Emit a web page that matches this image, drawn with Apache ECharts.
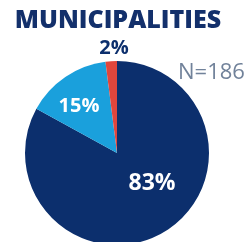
<!DOCTYPE html>
<html>
<head>
<meta charset="utf-8">
<script src="https://cdn.jsdelivr.net/npm/echarts@6/dist/echarts.min.js"></script>
<style>
html, body { margin: 0; padding: 0; background: #fff; }
#main { width: 251px; height: 242px; }
</style>
</head>
<body>
<div id="main"></div>
<script>
var categories = ['Yes', 'No', 'Unsure'];
var values = [83, 15, 2];
var sampleSize = 186;
var title = 'MUNICIPALITIES';

var chart = echarts.init(document.getElementById('main'));

var colorList = ['#0c2f6d', '#1aa0dc', '#e0463c'];
// label spots for each slice (px)
var labelPos = [[152, 183], [79, 106], [114, 48]];
var labelSize = [23, 20, 20];
var labelColor = ['#fff', '#fff', '#0c2f6d'];

var labels = values.map(function(v, i) {
	return {
		type: 'text',
		x: labelPos[i][0],
		y: labelPos[i][1],
		style: {
			text: v + '%',
			fill: labelColor[i],
			font: 'bold ' + labelSize[i] + 'px "Open Sans"',
			align: 'center',
			verticalAlign: 'middle'
		},
		z: 10
	};
});

var option = {
	animation: false,
	graphic: labels.concat([{
		type: 'text',
		x: 118,
		y: 21,
		style: {
			text: title,
			fill: '#13306b',
			font: '800 25px "Open Sans"',
			align: 'center',
			verticalAlign: 'middle'
		}
	}, {
		type: 'text',
		x: 178,
		y: 73,
		style: {
			text: 'N=' + sampleSize,
			fill: '#71829a',
			font: '22px "Open Sans"',
			align: 'left',
			verticalAlign: 'middle'
		}
	}]),
	series: [{
		type: 'pie',
		center: [117, 153],
		radius: 92,
		startAngle: 90,
		clockwise: true,
		label: { show: false },
		labelLine: { show: false },
		data: values.map(function(v, i) {
			return { value: v, name: categories[i], itemStyle: { color: colorList[i] } };
		})
	}]
};

chart.setOption(option);
</script>
</body>
</html>
